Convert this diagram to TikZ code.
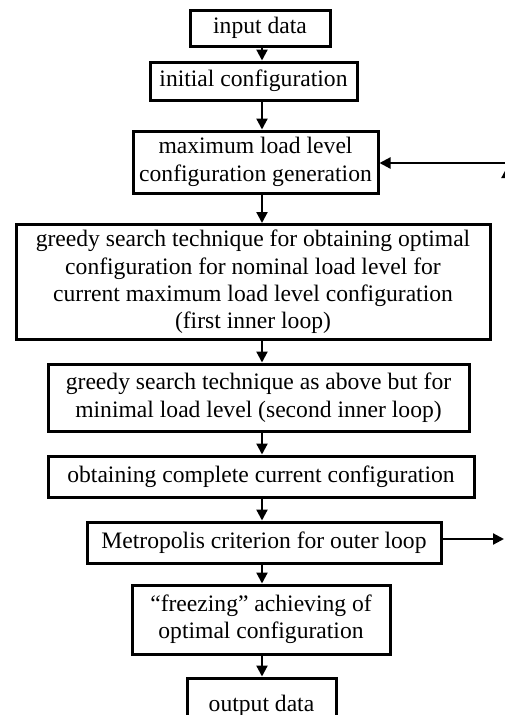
\documentclass[tikz,border=0pt]{standalone}
\usepackage{fontspec}
\setmainfont{Liberation Serif}
\usetikzlibrary{arrows.meta}
\begin{document}
\begin{tikzpicture}[x=1pt,y=-1pt,
  box/.style={draw, line width=3pt, rectangle, align=center, inner sep=0pt,
    font=\fontsize{23.6}{27.4}\selectfont},
  arr/.style={line width=2.2pt, -{Triangle[length=11pt,width=11pt]}}]
\useasboundingbox (0,0) rectangle (505,715);
\clip (0,0) rectangle (505,715);
\fill[white] (0,0) rectangle (505,715);
\node[box, minimum width=140pt, minimum height=36pt] (in) at (260,28) {input data};
\node[box, minimum width=207pt, minimum height=38pt] (init) at (253.5,81) {initial configuration};
\node[box, minimum width=245pt, minimum height=62pt] (max) at (255.5,162) {maximum load level\\configuration generation};
\node[box, minimum width=474pt, minimum height=115pt] (g1) at (253,282) {greedy search technique for obtaining optimal\\configuration for nominal load level for\\current maximum load level configuration\\(first inner loop)};
\node[box, minimum width=421pt, minimum height=67pt] (g2) at (258.5,397.5) {greedy search technique as above but for\\minimal load level (second inner loop)};
\node[box, minimum width=426pt, minimum height=41pt] (ob) at (261,476.5) {obtaining complete current configuration};
\node[box, minimum width=354pt, minimum height=41pt] (me) at (264,542.5) {Metropolis criterion for outer loop};
\node[box, minimum width=258pt, minimum height=69pt] (fr) at (261,619.5) {“freezing” achieving of\\optimal configuration};
\node[box, minimum width=149pt, minimum height=50pt, text depth=0pt] (out) at (261.5,703) {output data};
\coordinate (ax) at (262,0);
\draw[arr] (in.south -| ax) -- (init.north -| ax);
\draw[arr] (init.south -| ax) -- (max.north -| ax);
\draw[arr] (max.south -| ax) -- (g1.north -| ax);
\draw[arr] (g1.south -| ax) -- (g2.north -| ax);
\draw[arr] (g2.south -| ax) -- (ob.north -| ax);
\draw[arr] (ob.south -| ax) -- (me.north -| ax);
\draw[arr] (me.south -| ax) -- (fr.north -| ax);
\draw[arr] (fr.south -| ax) -- (out.north -| ax);
% outer loop (cut off at right edge)
\coordinate (mr) at (504,539);
\coordinate (tr) at (515,163);
\coordinate (up) at (507,260);
\coordinate (uptip) at (507,167);
\draw[arr] (me.east |- mr) -- (mr);
\draw[arr] (tr) -- (max.east |- tr);
\draw[arr] (up) -- (uptip);
\end{tikzpicture}
\end{document}
